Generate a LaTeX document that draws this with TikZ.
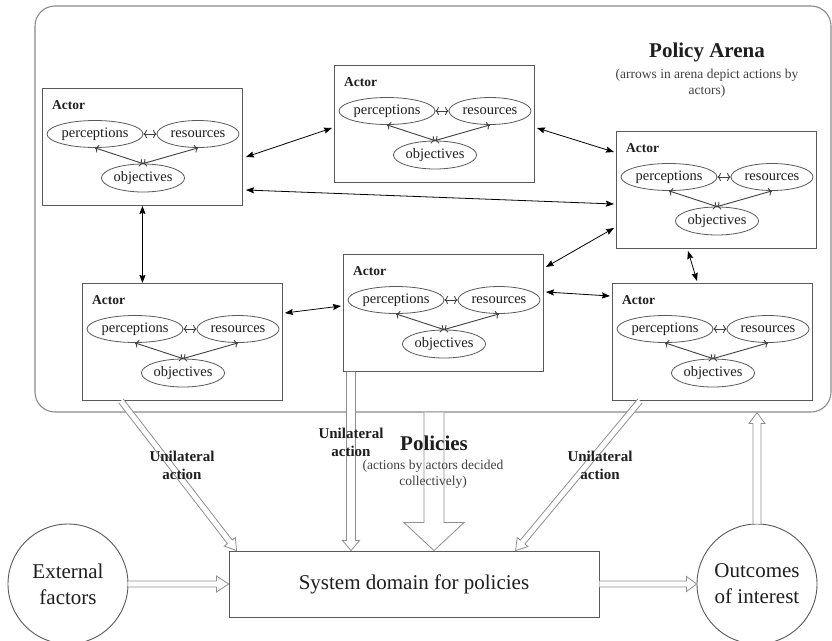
\documentclass[tikz,border=0pt]{standalone}
\usepackage{fontspec}
\setmainfont{Liberation Serif}
\usetikzlibrary{calc,arrows.meta,shapes.geometric}

\definecolor{arenagray}{HTML}{8A8A8A}
\definecolor{boxgray}{HTML}{5A5A5A}
\definecolor{fatgray}{HTML}{8E8E8E}
\definecolor{ink}{HTML}{1E1E1E}

\tikzset{
  arena/.style={draw=arenagray, line width=1.1pt, rounded corners=20pt,
    minimum width=796pt, minimum height=406pt, inner sep=0pt},
  actorbox/.style={draw=boxgray, line width=0.9pt, minimum width=200pt,
    minimum height=117pt, inner sep=0pt, anchor=north west},
  idea/.style={ellipse, draw=boxgray, line width=0.8pt, inner sep=0pt,
    text=ink, font=\fontsize{14.5}{16}\selectfont},
  actortitle/.style={anchor=west, inner sep=0pt, text=ink,
    font=\bfseries\fontsize{13.5}{15}\selectfont},
  link/.style={{Stealth[length=8pt,width=6pt,inset=1pt]}-{Stealth[length=8pt,width=6pt,inset=1pt]},
    line width=0.8pt, black},
  innerlink/.style={{To[length=3.5pt,width=8pt]}-{To[length=3.5pt,width=8pt]},
    line width=0.9pt, ink!85},
  fat/.style={draw=fatgray, line width=0.8pt, line join=miter},
  bigshape/.style={draw=boxgray, line width=0.9pt, text=ink, align=center,
    font=\fontsize{21}{26}\selectfont},
  unilabel/.style={align=center, text=ink, inner sep=0pt,
    font=\bfseries\fontsize{15}{18}\selectfont},
  heading/.style={align=center, text=ink, inner sep=0pt,
    font=\bfseries\fontsize{21}{24}\selectfont},
  note/.style={align=center, text=ink!85, inner sep=0pt,
    font=\fontsize{13.5}{16}\selectfont},
}

% one actor: box, title and the three linked ellipses
\newcommand\actorgroup[3]{%
  \node[actorbox] (#1) at (#2,#3) {};
  \node[actortitle] (#1-t) at ($(#1.north west)+(10,17)$) {Actor};
  \node[idea, minimum width=96pt, minimum height=27pt] (#1-p)
    at ($(#1.north west)+(53,46)$) {perceptions};
  \node[idea, minimum width=82pt, minimum height=27pt] (#1-r)
    at ($(#1.north west)+(156,46)$) {resources};
  \node[idea, minimum width=83pt, minimum height=28pt] (#1-o)
    at ($(#1.north west)+(101,90)$) {objectives};
  \draw[innerlink] (#1-p.east) -- (#1-r.west);
  \draw[innerlink] (#1-p.south) -- (#1-o.north);
  \draw[innerlink] (#1-r.south) -- (#1-o.north);
}

% hollow block arrow: start, tip, shaft half width, head half width, head length
\newcommand\fatarrow[5]{%
  \coordinate (fa-h) at ($(#2)!#5!(#1)$);
  \coordinate (fa-a1) at ($(#1)!#3!90:(#2)$);
  \coordinate (fa-a2) at ($(#1)!#3!-90:(#2)$);
  \coordinate (fa-s1) at ($(fa-h)!#3!90:(#2)$);
  \coordinate (fa-s2) at ($(fa-h)!#3!-90:(#2)$);
  \coordinate (fa-b1) at ($(fa-h)!#4!90:(#2)$);
  \coordinate (fa-b2) at ($(fa-h)!#4!-90:(#2)$);
  \fill[white] (fa-a1) -- (fa-s1) -- (fa-b1) -- (#2) -- (fa-b2) -- (fa-s2) -- (fa-a2) -- cycle;
  \draw[fat] (fa-a1) -- (fa-s1) -- (fa-b1) -- (#2) -- (fa-b2) -- (fa-s2) -- (fa-a2);
}

\begin{document}
\begin{tikzpicture}[x=1pt,y=-1pt]
\useasboundingbox (0,0) rectangle (832,640);
\clip (0,0) rectangle (832,640);
\fill[white] (0,0) rectangle (832,640);

% the policy arena
\node[arena] (arena) at (433,209) {};
\node[heading] (arenatitle) at (707,52) {Policy Arena};
\node[note] (arenanote) at (707,83) {(arrows in arena depict actions by\\actors)};

% actors
\actorgroup{b1}{42}{88}
\actorgroup{b2}{334}{65}
\actorgroup{b3}{616}{131}
\actorgroup{b4}{82}{283}
\actorgroup{b5}{343}{254}
\actorgroup{b6}{612}{283}

% actions between actors
\draw[link] ($(b1.north east)+(3,69)$) -- ($(b2.north west)+(-2,63)$);
\draw[link] ($(b1.north east)+(3,102)$) -- ($(b3.north west)+(-2,73)$);
\draw[link] ($(b2.north east)+(2,63)$) -- ($(b3.north west)+(-2,21)$);
\draw[link] ($(b3.north west)+(-2,97)$) -- ($(b5.north east)+(2,13)$);
\draw[link] ($(b3.south west)+(72,2)$) -- ($(b6.north west)+(85,-2)$);
\draw[link] (b1.south) -- (b1.south |- b4.north);
\draw[link] ($(b4.north east)+(2,30)$) -- ($(b5.north west)+(-2,52)$);
\draw[link] ($(b5.north east)+(2,38)$) -- ($(b6.north west)+(-2,13)$);

% system domain and its surroundings
\node[bigshape, minimum width=370pt, minimum height=66pt] (sys) at (414,584)
  {System domain for policies};
\node[bigshape, circle, minimum size=120pt, inner sep=0pt] (ext) at (68,584)
  {External\\factors};
\node[bigshape, circle, minimum size=120pt, inner sep=0pt] (out) at (757,584)
  {Outcomes\\of interest};

% block arrows
\coordinate (u1s) at ($(b4.south west)+(39,0)$);
\coordinate (u1t) at ($(sys.north west)+(8,0)$);
\fatarrow{u1s}{u1t}{3pt}{7pt}{11pt}
\coordinate (u2s) at ($(b5.south west)+(8,0)$);
\coordinate (u2t) at (u2s |- sys.north);
\fatarrow{u2s}{u2t}{4.5pt}{8.5pt}{10pt}
\coordinate (u3s) at ($(b6.south west)+(28,0)$);
\coordinate (u3t) at ($(sys.north west)+(287,0)$);
\fatarrow{u3s}{u3t}{3pt}{7pt}{11pt}
\coordinate (pols) at ($(arena.south)+(1,0)$);
\coordinate (polt) at (pols |- sys.north);
\fatarrow{pols}{polt}{10pt}{30pt}{28pt}
\coordinate (extt) at (ext.east -| sys.west);
\fatarrow{ext.east}{extt}{3pt}{8pt}{12pt}
\coordinate (sysr) at (sys.east);
\coordinate (outl) at (sys.east -| out.west);
\fatarrow{sysr}{outl}{3pt}{7.5pt}{10pt}
\coordinate (oute) at (out.north);
\coordinate (arenab) at (out.north |- arena.south);
\fatarrow{oute}{arenab}{4pt}{8pt}{11pt}

% labels on the block arrows
\node[unilabel] (ul1) at (182,465) {Unilateral\\action};
\node[unilabel] (ul2) at (351,442) {Unilateral\\action};
\node[unilabel] (ul3) at (600,465) {Unilateral\\action};
\node[heading] (poltitle) at (434,443) {Policies};
\node[note] (polnote) at (433,474) {(actions by actors decided\\collectively)};
\end{tikzpicture}
\end{document}
